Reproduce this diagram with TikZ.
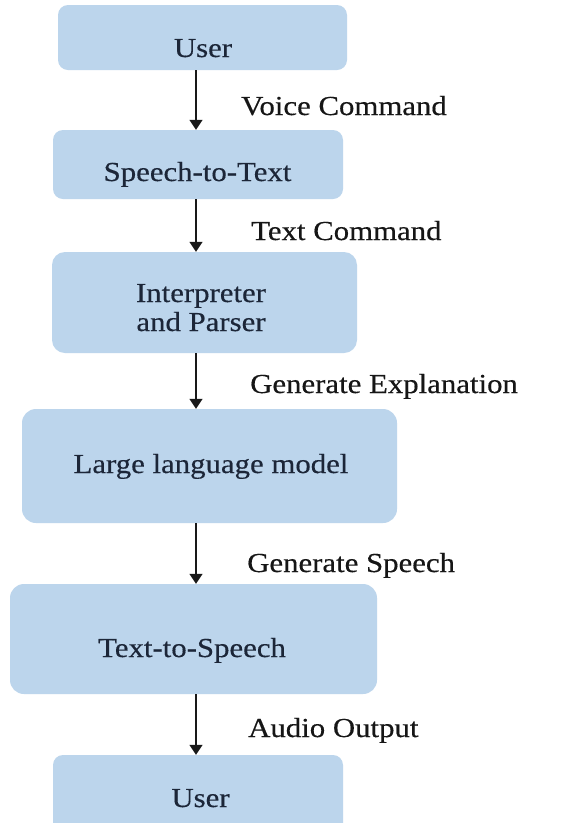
\documentclass[tikz,border=0pt]{standalone}
\usepackage{fontspec}
\setmainfont{Liberation Serif}[FakeStretch=1.12,FakeBold=0.4]
\usetikzlibrary{arrows.meta,calc}
\definecolor{boxblue}{RGB}{188,213,236}
\definecolor{boxtext}{RGB}{28,38,56}
\definecolor{labtext}{RGB}{22,22,22}
\tikzset{
  flowbox/.style={draw=none, fill=boxblue, rounded corners=#1, inner sep=0pt},
  flowbox/.default=10pt,
  boxlabel/.style={anchor=base, text=boxtext, font=\fontsize{27.5}{30}\selectfont, inner sep=0pt},
  edgelabel/.style={anchor=base west, text=labtext, font=\fontsize{27.5}{30}\selectfont, inner sep=0pt},
  flowarrow/.style={line width=1.5pt, draw=black!90, -{Triangle[width=13pt,length=10pt]}}
}
\begin{document}
\begin{tikzpicture}[x=1pt,y=-1pt]
\useasboundingbox (0,0) rectangle (565,823);
\fill[white] (0,0) rectangle (565,823);
\clip (0,0) rectangle (565,823);
% boxes
\node[flowbox, minimum width=289pt, minimum height=65pt] (user1) at (202.5,37.5) {};
\node[flowbox, minimum width=290pt, minimum height=69pt] (stt) at (198,164.5) {};
\node[flowbox=13pt, minimum width=305pt, minimum height=101pt] (ip) at (204.5,302.5) {};
\node[flowbox=14pt, minimum width=375pt, minimum height=114pt] (llm) at (209.5,466) {};
\node[flowbox=14pt, minimum width=367pt, minimum height=110pt] (tts) at (193.5,639) {};
\node[flowbox, minimum width=290pt, minimum height=88pt] (user2) at (198,799) {};
% box texts
\node[boxlabel] (t1) at (203,57) {User};
\node[boxlabel] (t2) at (197.5,181) {Speech-to-Text};
\node[boxlabel] (t3a) at (201,302) {Interpreter};
\node[boxlabel] (t3b) at (201,331) {and Parser};
\node[boxlabel] (t4) at (211,473) {Large language model};
\node[boxlabel] (t5) at (192,657) {Text-to-Speech};
\node[boxlabel] (t6) at (200.5,807) {User};
% arrows
\coordinate (ax) at (196,0);
\draw[flowarrow] (user1.south -| ax) -- (stt.north -| ax);
\draw[flowarrow] (stt.south -| ax) -- (ip.north -| ax);
\draw[flowarrow] (ip.south -| ax) -- (llm.north -| ax);
\draw[flowarrow] (llm.south -| ax) -- (tts.north -| ax);
\draw[flowarrow] (tts.south -| ax) -- (user2.north -| ax);
% arrow labels
\node[edgelabel] (l1) at (241,115) {Voice Command};
\node[edgelabel] (l2) at (251,240) {Text Command};
\node[edgelabel] (l3) at (250,393) {Generate Explanation};
\node[edgelabel] (l4) at (247,572) {Generate Speech};
\node[edgelabel] (l5) at (248,737) {Audio Output};
\end{tikzpicture}
\end{document}
